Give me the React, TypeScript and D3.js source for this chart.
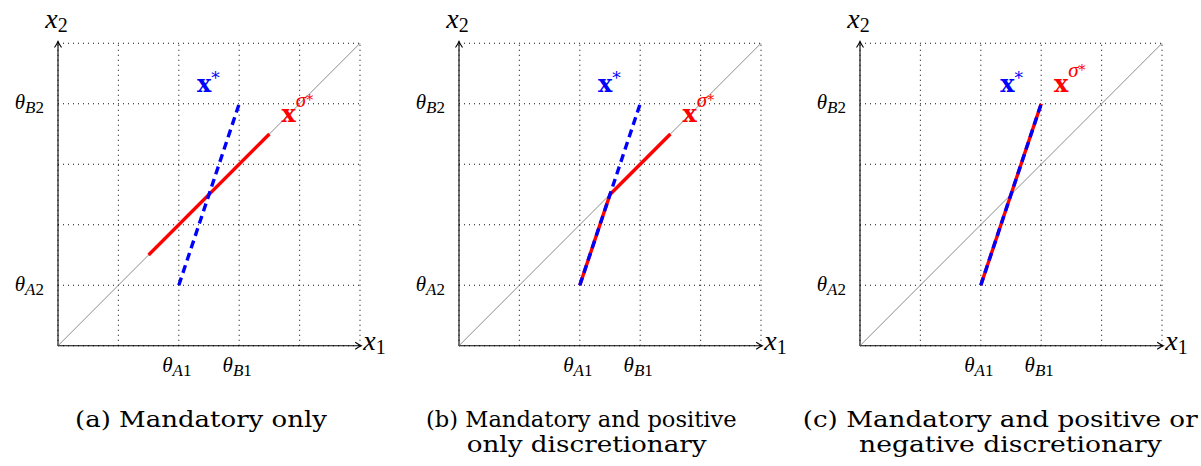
import * as d3 from "d3";

// grid runs over 0..5 in both directions
const gridTicks = [0, 1, 2, 3, 4, 5];

// threshold ticks (theta labels)
const xThresholds = [2, 3];
const xThresholdSubs = ["A1", "B1"];
const yThresholds = [1, 4];
const yThresholdSubs = ["A2", "B2"];

// x* : the unconstrained optimum path (blue dashed)
const optimalPath: [number, number][] = [
  [2, 1],
  [3, 4],
];

// x^{sigma*} paths (red) for the three cases
const sigmaPathA: [number, number][] = [
  [1.5, 1.5],
  [3.5, 3.5],
];
const sigmaPathB: [number, number][] = [
  [2, 1],
  [2.5, 2.5],
  [3.5, 3.5],
];
const sigmaPathC: [number, number][] = [
  [2, 1],
  [3, 4],
];

const captionA = ["(a) Mandatory only"];
const captionB = ["(b) Mandatory and positive", "only discretionary"];
const captionC = ["(c) Mandatory and positive or", "negative discretionary"];

const W = 1201;
const H = 466;
const textFont = "'DejaVu Serif', serif";
const mathFont = "'Liberation Serif', serif";

type PanelProps = {
  offset: number;
  sigma: [number, number][];
  optLabel: [number, number];
  sigmaLabel: [number, number];
  caption: string[];
  captionX: number[];
  captionW: number[];
};

function Panel({ offset, sigma, optLabel, sigmaLabel, caption, captionX, captionW }: PanelProps) {
  const x = d3.scaleLinear().domain([0, 5]).range([58 + offset, 360 + offset]);
  const y = d3.scaleLinear().domain([0, 5]).range([345.7, 43.3]);
  const line = d3
    .line<[number, number]>()
    .x((d) => x(d[0]))
    .y((d) => y(d[1]));

  const ox = x(0);
  const oy = y(0);
  const tipX = x(5.02);
  const tipY = y(5.03);

  return (
    <g>
      {/* dotted grid */}
      {gridTicks.map((t) => (
        <g key={"g" + t}>
          <line
            x1={x(t)}
            x2={x(t)}
            y1={y(0)}
            y2={y(5)}
            stroke="#111"
            strokeWidth={1.1}
            strokeDasharray="1 4"
          />
          <line
            x1={x(0)}
            x2={x(5)}
            y1={y(t)}
            y2={y(t)}
            stroke="#111"
            strokeWidth={1.1}
            strokeDasharray="1 4"
          />
        </g>
      ))}

      {/* axes */}
      <line x1={ox} x2={tipX} y1={oy} y2={oy} stroke="#000" strokeWidth={1.1} />
      <line x1={ox} x2={ox} y1={oy} y2={tipY} stroke="#000" strokeWidth={1.1} />
      <path
        d={`M ${tipX - 6} ${oy - 3.5} Q ${tipX - 2} ${oy - 0.8} ${tipX} ${oy} Q ${tipX - 2} ${oy + 0.8} ${tipX - 6} ${oy + 3.5}`}
        fill="none"
        stroke="#000"
        strokeWidth={1.1}
      />
      <path
        d={`M ${ox - 3.5} ${tipY + 6} Q ${ox - 0.8} ${tipY + 2} ${ox} ${tipY} Q ${ox + 0.8} ${tipY + 2} ${ox + 3.5} ${tipY + 6}`}
        fill="none"
        stroke="#000"
        strokeWidth={1.1}
      />

      {/* 45 degree line */}
      <line x1={x(0)} y1={y(0)} x2={x(5)} y2={y(5)} stroke="#8c8c8c" strokeWidth={1} />

      {/* paths */}
      <path d={line(sigma) ?? ""} fill="none" stroke="#ff0000" strokeWidth={3.4} />
      <path
        d={line(optimalPath) ?? ""}
        fill="none"
        stroke="#0000ff"
        strokeWidth={3.4}
        strokeDasharray="8 5"
      />

      {/* axis labels */}
      <text x={ox - 1.5} y={28.3} textAnchor="middle" fontFamily={mathFont} fontSize={28} fontStyle="italic">
        x
        <tspan fontSize={20} fontStyle="normal" dy={3.5}>
          2
        </tspan>
      </text>
      <text x={tipX + 2} y={350} fontFamily={mathFont} fontSize={28} fontStyle="italic">
        x
        <tspan fontSize={20} fontStyle="normal" dy={3.5}>
          1
        </tspan>
      </text>

      {xThresholds.map((v, i) => (
        <text
          key={"tx" + v}
          x={x(v) - 2}
          y={371.5}
          textAnchor="middle"
          fontFamily={mathFont}
          fontSize={21}
          fontStyle="italic"
        >
          θ
          <tspan fontSize={17} dy={4}>
            {xThresholdSubs[i][0]}
          </tspan>
          <tspan fontSize={17} fontStyle="normal">
            {xThresholdSubs[i][1]}
          </tspan>
        </text>
      ))}
      {yThresholds.map((v, i) => (
        <text
          key={"ty" + v}
          x={ox - 14}
          y={y(v) + 5.6}
          textAnchor="end"
          fontFamily={mathFont}
          fontSize={21}
          fontStyle="italic"
        >
          θ
          <tspan fontSize={17} dy={4}>
            {yThresholdSubs[i][0]}
          </tspan>
          <tspan fontSize={17} fontStyle="normal">
            {yThresholdSubs[i][1]}
          </tspan>
        </text>
      ))}

      {/* series labels */}
      <text
        x={x(optLabel[0])}
        y={y(optLabel[1])}
        fill="#0000ff"
        fontFamily={textFont}
        fontSize={24}
        fontWeight="bold"
      >
        x
        <tspan fontSize={17} fontWeight="normal" dy={-8}>
          *
        </tspan>
      </text>
      <text
        x={x(sigmaLabel[0])}
        y={y(sigmaLabel[1])}
        fill="#ff0000"
        fontFamily={textFont}
        fontSize={24}
        fontWeight="bold"
      >
        x
        <tspan fontFamily={mathFont} fontSize={21} fontWeight="normal" fontStyle="italic" dy={-15}>
          σ
        </tspan>
        <tspan fontSize={14} fontWeight="normal" dy={-2}>
          *
        </tspan>
      </text>

      {/* caption */}
      {caption.map((c, i) => (
        <text
          key={"c" + i}
          x={captionX[i]}
          y={426.7 + i * 25}
          fontFamily={textFont}
          fontSize={22}
          textLength={captionW[i]}
          lengthAdjust="spacingAndGlyphs"
        >
          {c}
        </text>
      ))}
    </g>
  );
}

export default function App() {
  return (
    <svg
      width={W}
      height={H}
      viewBox={`0 0 ${W} ${H}`}
      style={{ position: "absolute", left: 0, top: 0, display: "block", background: "#fff" }}
    >
      <rect width={W} height={H} fill="#fff" />
      <Panel
        offset={0}
        sigma={sigmaPathA}
        optLabel={[2.3, 4.2]}
        sigmaLabel={[3.7, 3.7]}
        caption={captionA}
        captionX={[75]}
        captionW={[252]}
      />
      <Panel
        offset={401}
        sigma={sigmaPathB}
        optLabel={[2.3, 4.2]}
        sigmaLabel={[3.7, 3.7]}
        caption={captionB}
        captionX={[426, 466.7]}
        captionW={[310.7, 240]}
      />
      <Panel
        offset={802}
        sigma={sigmaPathC}
        optLabel={[2.32, 4.2]}
        sigmaLabel={[3.21, 4.2]}
        caption={captionC}
        captionX={[802.7, 859]}
        captionW={[395, 302.7]}
      />
    </svg>
  );
}
